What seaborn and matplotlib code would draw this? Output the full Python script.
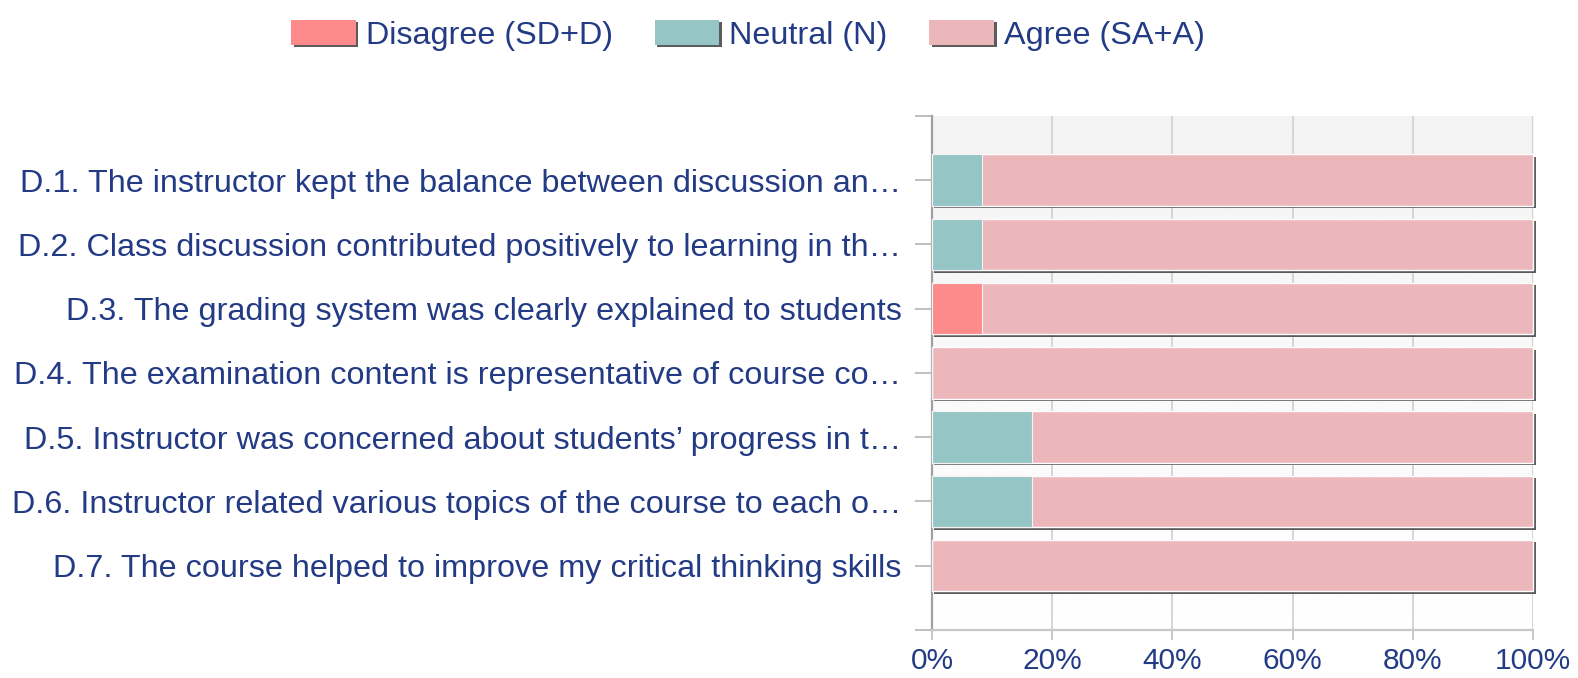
import numpy as np
import pandas as pd
import seaborn as sns
import matplotlib.pyplot as plt
import matplotlib.patheffects as pe
from matplotlib.patches import Patch
from matplotlib.ticker import PercentFormatter

questions = [
    "D.1. The instructor kept the balance between discussion an\u2026",
    "D.2. Class discussion contributed positively to learning in th\u2026",
    "D.3. The grading system was clearly explained to students",
    "D.4. The examination content is representative of course co\u2026",
    "D.5. Instructor was concerned about students\u2019 progress in t\u2026",
    "D.6. Instructor related various topics of the course to each o\u2026",
    "D.7. The course helped to improve my critical thinking skills",
]
disagree = [0, 0, 8.33, 0, 0, 0, 0]
neutral = [8.33, 8.33, 0, 0, 16.67, 16.67, 0]
agree = [91.67, 91.67, 91.67, 100, 83.33, 83.33, 100]

labels = ["Disagree (SD+D)", "Neutral (N)", "Agree (SA+A)"]
colors = ["#fe8b8b", "#96c5c6", "#ebb7bb"]
text_color = "#233a85"

df = pd.DataFrame({"Question": questions, "Disagree": disagree,
                   "Neutral": neutral, "Agree": agree})
df["cum_dn"] = df["Disagree"] + df["Neutral"]
df["cum_all"] = df["cum_dn"] + df["Agree"]

sns.set_style("white")
plt.rcParams["font.family"] = ["Liberation Sans", "DejaVu Sans"]

fig = plt.figure(figsize=(15.78, 6.78), dpi=100)
ax = fig.add_axes([0.5906, 0.071, 0.381, 0.758])

# plot area background: light grey fading to white
grad = np.linspace(0.953, 0.997, 256).reshape(-1, 1)
ax.imshow(grad, extent=[0, 1, 0, 1], transform=ax.transAxes, cmap="gray",
          vmin=0, vmax=1, aspect="auto", zorder=0)

shadow = [pe.SimplePatchShadow(offset=(1.8, -1.8), shadow_rgbFace="#4a4a4a", alpha=0.9),
          pe.Normal()]

# stacked bars drawn as overlapping cumulative layers
sns.barplot(data=df, y="Question", x="cum_all", color=colors[2], width=0.8,
            saturation=1, orient="h", ax=ax, zorder=3)
n_full = len(ax.patches)
for p in ax.patches:
    p.set_path_effects(shadow)
    p.set_clip_on(False)
sns.barplot(data=df, y="Question", x="cum_dn", color=colors[1], width=0.8,
            saturation=1, orient="h", ax=ax, zorder=4)
sns.barplot(data=df, y="Question", x="Disagree", color=colors[0], width=0.8,
            saturation=1, orient="h", ax=ax, zorder=5)
for p in ax.patches[n_full:]:
    p.set_edgecolor("#f4f4f4")
    p.set_linewidth(0.8)

ax.set_xlim(0, 100)
ax.set_ylim(7, -1)
ax.set_yticks(range(-1, 8))
ax.set_yticklabels([""] + questions + [""])
ax.set_xticks(range(0, 101, 20))
ax.xaxis.set_major_formatter(PercentFormatter(decimals=0))
ax.set_xlabel("")
ax.set_ylabel("")

ax.grid(axis="x", color="#d2d2d2", linewidth=1.3, zorder=1)
ax.set_axisbelow(True)
for s in ["top", "right"]:
    ax.spines[s].set_visible(False)
ax.spines["left"].set_color("#a0a0a0")
ax.spines["left"].set_linewidth(1.6)
ax.spines["bottom"].set_color("#c8c8c8")
ax.spines["bottom"].set_linewidth(1.6)

ax.tick_params(axis="y", length=12, width=1.4, color="#c0c0c0", pad=10,
               labelsize=23.3, labelcolor=text_color, left=True)
ax.tick_params(axis="x", length=7, width=1.4, color="#c8c8c8", pad=5,
               labelsize=21.5, labelcolor=text_color, bottom=True)

handles = [Patch(facecolor=c, edgecolor="none", path_effects=shadow) for c in colors]
fig.legend(handles, labels, loc="center", bbox_to_anchor=(0.474, 0.948), ncol=3,
           frameon=False, fontsize=23.3, labelcolor=text_color, handlelength=2.0,
           handleheight=0.8, handletextpad=0.3, columnspacing=1.3)

plt.savefig("out.png", dpi=100)
